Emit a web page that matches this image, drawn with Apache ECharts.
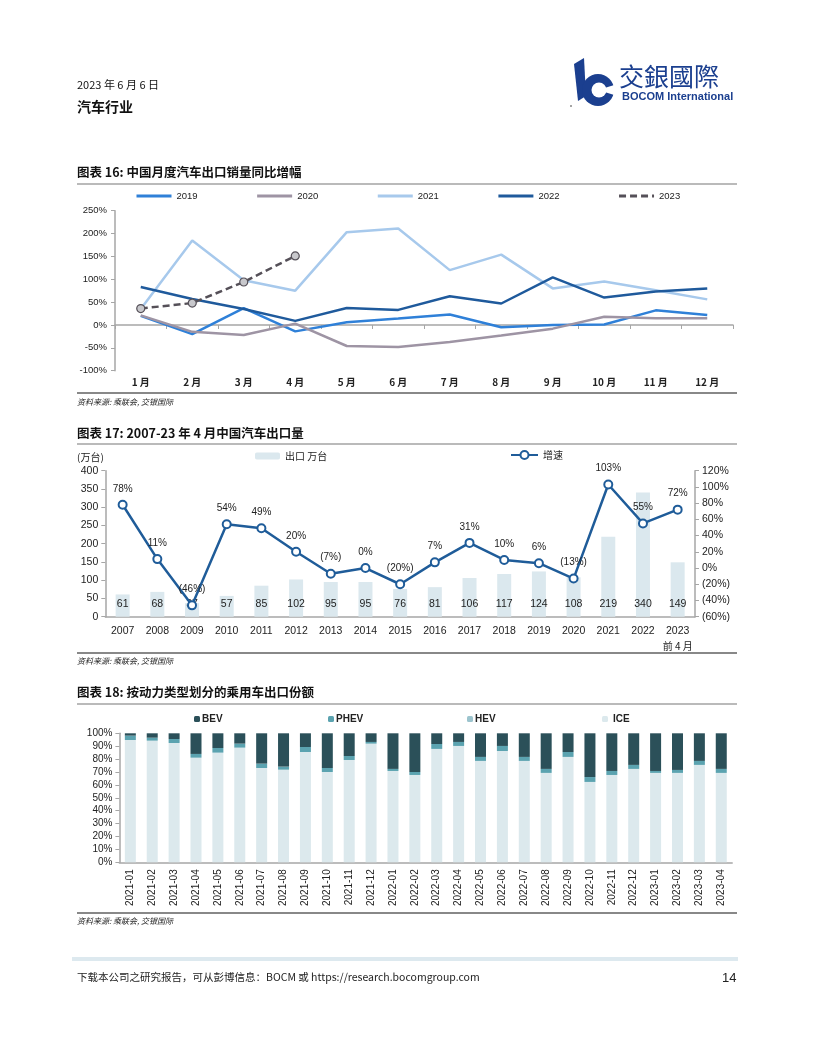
<!DOCTYPE html>
<html><head><meta charset="utf-8">
<script src="https://cdn.jsdelivr.net/npm/echarts@6/dist/echarts.min.js"></script>
<style>html,body{margin:0;padding:0;background:#fff}#c{width:816px;height:1056px}</style>
</head><body><div id="c"></div>
<script>
// ---------- Chart 16 data ----------
const months = ['1 月','2 月','3 月','4 月','5 月','6 月','7 月','8 月','9 月','10 月','11 月','12 月'];
const y2019 = [20, -20, 37, -14, 6, 14, 23, -5, 0, 1, 32, 22];
const y2020 = [21, -15, -22, 3, -46, -48, -37, -23, -8, 18, 15, 15];
const y2021 = [35, 185, 98, 75, 203, 211, 120, 154, 80, 95, 76, 56];
const y2022 = [83, 57, 35, 9, 37, 33, 63, 47, 104, 60, 73, 80];
const y2023 = [36, 48, 94, 151];
const pctTicks16 = {min: -100, max: 250, interval: 50};

// ---------- Chart 17 data ----------
const years = ['2007','2008','2009','2010','2011','2012','2013','2014','2015','2016','2017','2018','2019','2020','2021','2022','2023\n前 4 月'];
const exportVol = [61, 68, 37, 57, 85, 102, 95, 95, 76, 81, 106, 117, 124, 108, 219, 340, 149];
const growth = [78, 11, -46, 54, 49, 20, -7, 0, -20, 7, 31, 10, 6, -13, 103, 55, 72];
const volTicks = {min: 0, max: 400, interval: 50};
const growthTicks = {min: -60, max: 120, interval: 20};

// ---------- Chart 18 data ----------
const ym = ['2021-01','2021-02','2021-03','2021-04','2021-05','2021-06','2021-07','2021-08','2021-09','2021-10','2021-11','2021-12',
            '2022-01','2022-02','2022-03','2022-04','2022-05','2022-06','2022-07','2022-08','2022-09','2022-10','2022-11','2022-12',
            '2023-01','2023-02','2023-03','2023-04'];
const ice  = [94.8,94.3,92.5,81.1,85.0,88.9,73.1,71.8,85.5,70.0,79.3,92.0,70.8,67.7,87.9,90.2,78.6,86.3,78.6,69.3,81.7,62.3,67.7,72.4,69.3,69.3,75.5,69.3];
const hev  = [0,0,0,0,0,0,0,0,0,0,0,0,0,0,0,0,0,0,0,0,0,0,0,0,0,0,0,0];
const phev = [3.4,2.3,3.1,2.9,3.6,3.1,3.4,2.4,3.9,3.1,3.1,1.3,1.6,2.3,3.8,3.1,3.1,3.9,3.1,3.1,3.8,3.8,3.1,3.1,1.5,2.3,3.1,3.1];
const bev  = [1.8,3.4,4.4,16.0,11.4,8.0,23.5,25.8,10.6,26.9,17.6,6.7,27.6,30.0,8.3,6.7,18.3,9.8,18.3,27.6,14.5,33.9,29.2,24.5,29.2,28.4,21.4,27.6];
const shareTicks = {min: 0, max: 100, interval: 10};

const CJK = '"Noto Sans CJK SC"';
const LAT = '"Liberation Sans", Arial';
const navy = '#1b3f8f';
const pctFmt = v => v < 0 ? '(' + (-v) + '%)' : v + '%';

function txt(text, x, y, font, fill, extra) {
  return {type: 'text', style: Object.assign({text, x, y, font, fill: fill || '#111', verticalAlign: 'middle'}, extra || {})};
}
function hline(x1, x2, y, stroke, w) {
  return {type: 'line', shape: {x1, y1: y, x2, y2: y}, style: {stroke, lineWidth: w}};
}

const graphic = [
  txt('2023 年 6 月 6 日', 77, 85, '11px ' + CJK, '#111'),
  txt('汽车行业', 77, 107, 'bold 14px ' + CJK, '#111'),
  // logo
  {type: 'polygon', shape: {points: [[574, 64], [584, 58], [586, 96], [578, 101]]}, style: {fill: navy}},
  {type: 'circle', shape: {cx: 598, cy: 90, r: 16}, style: {fill: navy}},
  {type: 'circle', shape: {cx: 599, cy: 90, r: 7.5}, style: {fill: '#fff'}},
  {type: 'sector', shape: {cx: 598, cy: 90, r0: 6, r: 17, startAngle: -0.3, endAngle: 0.3}, style: {fill: '#fff'}},
  {type: 'circle', shape: {cx: 571, cy: 106, r: 0.8}, style: {fill: '#333'}},
  txt('交銀國際', 619, 76, '25px "Noto Sans CJK TC"', navy),
  txt('BOCOM International', 622, 97, 'bold 11px ' + LAT, navy),

  // chart 16 frame
  txt('图表 16: 中国月度汽车出口销量同比增幅', 77, 172, 'bold 12.5px ' + CJK, '#111'),
  hline(77, 737, 184, '#777', 1.2),
  hline(77, 737, 393, '#888', 2),
  txt('资料来源: 乘联会, 交银国际', 77, 402, 'italic 8px ' + CJK, '#222'),

  // chart 17 frame
  txt('图表 17: 2007-23 年 4 月中国汽车出口量', 77, 433, 'bold 12.5px ' + CJK, '#111'),
  hline(77, 737, 444, '#777', 1.2),
  txt('(万台)', 77, 457, '10px ' + CJK, '#222'),
  hline(77, 737, 653, '#888', 2),
  txt('资料来源: 乘联会, 交银国际', 77, 661, 'italic 8px ' + CJK, '#222'),

  // chart 18 frame
  txt('图表 18: 按动力类型划分的乘用车出口份额', 77, 692, 'bold 12.5px ' + CJK, '#111'),
  hline(77, 737, 704, '#777', 1.2),
  hline(77, 737, 913, '#888', 2),
  txt('资料来源: 乘联会, 交银国际', 77, 921, 'italic 8px ' + CJK, '#222'),

  // footer
  {type: 'rect', shape: {x: 72, y: 957, width: 666, height: 4}, style: {fill: '#dde9ef'}},
  txt('下载本公司之研究报告，可从彭博信息：BOCM 或 https://research.bocomgroup.com', 77, 977, '10.5px ' + CJK, '#222'),
  txt('14', 722, 978, '13px ' + LAT, '#222')
];

const axisGrey = '#a6a6a6';
const lab = {color: '#222', fontSize: 9.5, fontFamily: LAT};
const noSym = {itemStyle: {opacity: 0}};
const sqText = {fontSize: 10, fontWeight: 'bold', fontFamily: LAT, color: '#222', padding: [0, 0, 0, -3]};

const option = {
  animation: false,
  graphic: graphic,
  grid: [
    {left: 115, top: 210.7, width: 618, height: 160},
    {left: 105.3, top: 470.7, width: 589.7, height: 146},
    {left: 119.4, top: 733.3, width: 612.8, height: 129}
  ],
  legend: [
    {data: ['2019', '2020', '2021', '2022', '2023'].map(n => Object.assign({name: n}, noSym)),
     left: 135, top: 191, padding: 0, itemWidth: 35, itemHeight: 10, itemGap: 58,
     lineStyle: {width: 3},
     textStyle: {fontSize: 9.5, fontFamily: LAT, color: '#222'}},
    {data: ['出口 万台'], left: 255, top: 451, padding: 0, itemWidth: 25, itemHeight: 7,
     textStyle: {fontSize: 10, fontFamily: CJK, color: '#222'}},
    {data: ['增速'], left: 510, top: 450, padding: 0, itemWidth: 27, itemHeight: 10,
     textStyle: {fontSize: 10, fontFamily: CJK, color: '#222'}},
    {data: ['BEV'], left: 194, top: 714, padding: 0, itemWidth: 6, itemHeight: 6, textStyle: sqText},
    {data: ['PHEV'], left: 328, top: 714, padding: 0, itemWidth: 6, itemHeight: 6, textStyle: sqText},
    {data: ['HEV'], left: 467, top: 714, padding: 0, itemWidth: 6, itemHeight: 6, textStyle: sqText},
    {data: ['ICE'], left: 602, top: 714, padding: 0, itemWidth: 6, itemHeight: 6, textStyle: Object.assign({}, sqText, {padding: [0, 0, 0, 0]})}
  ],
  xAxis: [
    {gridIndex: 0, type: 'category', data: months, position: 'bottom',
     axisLine: {show: false, onZero: false}, axisTick: {show: false},
     axisLabel: {color: '#222', fontSize: 10, fontFamily: CJK, fontWeight: 'bold', margin: 7, interval: 0}},
    {gridIndex: 0, type: 'category', data: months, position: 'bottom',
     axisLine: {show: true, onZero: true, lineStyle: {color: axisGrey, width: 1.5}},
     axisTick: {show: true, length: 4, lineStyle: {color: axisGrey}}, axisLabel: {show: false}},
    {gridIndex: 1, type: 'category', data: years,
     axisLine: {lineStyle: {color: axisGrey, width: 1.5}}, axisTick: {length: 4, lineStyle: {color: axisGrey}},
     axisLabel: {color: '#222', fontSize: 10.5, fontFamily: LAT, margin: 7, lineHeight: 15, interval: 0,
       formatter: v => v.indexOf('\n') >= 0 ? v.split('\n')[0] + '\n{s|' + v.split('\n')[1] + '}' : v,
       rich: {s: {fontSize: 10, fontFamily: CJK, color: '#222', lineHeight: 15}}}},
    {gridIndex: 2, type: 'category', data: ym,
     axisLine: {lineStyle: {color: axisGrey, width: 1.5}}, axisTick: {length: 4, lineStyle: {color: axisGrey}},
     axisLabel: {color: '#222', fontSize: 10, fontFamily: LAT, rotate: 90, margin: 7, interval: 0}}
  ],
  yAxis: [
    {gridIndex: 0, type: 'value', min: pctTicks16.min, max: pctTicks16.max, interval: pctTicks16.interval,
     splitLine: {show: false}, axisLine: {show: true, lineStyle: {color: axisGrey, width: 1.5}},
     axisTick: {show: true, length: 4, lineStyle: {color: axisGrey}},
     axisLabel: Object.assign({formatter: '{value}%', margin: 8}, lab)},
    {gridIndex: 1, type: 'value', min: volTicks.min, max: volTicks.max, interval: volTicks.interval,
     splitLine: {show: false}, axisLine: {show: true, lineStyle: {color: axisGrey, width: 1.5}},
     axisTick: {show: true, length: 4, lineStyle: {color: axisGrey}},
     axisLabel: {color: '#222', fontSize: 10.5, fontFamily: LAT, margin: 7}},
    {gridIndex: 1, type: 'value', position: 'right', min: growthTicks.min, max: growthTicks.max, interval: growthTicks.interval,
     splitLine: {show: false}, axisLine: {show: true, lineStyle: {color: axisGrey, width: 1.5}},
     axisTick: {show: true, length: 4, lineStyle: {color: axisGrey}},
     axisLabel: {color: '#222', fontSize: 10.5, fontFamily: LAT, margin: 7, formatter: pctFmt}},
    {gridIndex: 2, type: 'value', min: shareTicks.min, max: shareTicks.max, interval: shareTicks.interval,
     splitLine: {show: false}, axisLine: {show: true, lineStyle: {color: axisGrey, width: 1.5}},
     axisTick: {show: true, length: 4, lineStyle: {color: axisGrey}},
     axisLabel: {color: '#222', fontSize: 10, fontFamily: LAT, margin: 7, formatter: '{value}%'}}
  ],
  series: [
    {name: '2019', type: 'line', xAxisIndex: 0, yAxisIndex: 0, data: y2019, symbol: 'none', lineStyle: {color: '#2f80d8', width: 2.5}, itemStyle: {color: '#2f80d8'}},
    {name: '2020', type: 'line', xAxisIndex: 0, yAxisIndex: 0, data: y2020, symbol: 'none', lineStyle: {color: '#9e94a4', width: 2.5}, itemStyle: {color: '#9e94a4'}},
    {name: '2021', type: 'line', xAxisIndex: 0, yAxisIndex: 0, data: y2021, symbol: 'none', lineStyle: {color: '#a7c9ec', width: 2.5}, itemStyle: {color: '#a7c9ec'}},
    {name: '2022', type: 'line', xAxisIndex: 0, yAxisIndex: 0, data: y2022, symbol: 'none', lineStyle: {color: '#1f5a9c', width: 2.5}, itemStyle: {color: '#1f5a9c'}},
    {name: '2023', type: 'line', xAxisIndex: 0, yAxisIndex: 0, data: y2023, symbol: 'circle', symbolSize: 8,
     lineStyle: {color: '#555058', width: 2.5, type: [7, 4]}, itemStyle: {color: '#c8c8cc', borderColor: '#555058', borderWidth: 1.2}},

    {name: '出口 万台', type: 'bar', xAxisIndex: 2, yAxisIndex: 1, data: exportVol, barWidth: 14,
     itemStyle: {color: '#dbe8ee'},
     label: {show: true, position: 'insideBottom', distance: 7, color: '#222', fontSize: 10.5, fontFamily: LAT}},
    {name: '增速', type: 'line', xAxisIndex: 2, yAxisIndex: 2, data: growth, symbol: 'emptyCircle', symbolSize: 8, z: 5,
     lineStyle: {color: '#1f5c99', width: 2.5}, itemStyle: {color: '#1f5c99', borderWidth: 1.5},
     label: {show: true, position: 'top', distance: 6, color: '#222', fontSize: 10, fontFamily: LAT, formatter: p => pctFmt(p.value)}},

    {name: 'ICE', type: 'bar', stack: 's', xAxisIndex: 3, yAxisIndex: 3, data: ice, barWidth: 11, itemStyle: {color: '#dce9ed'}},
    {name: 'HEV', type: 'bar', stack: 's', xAxisIndex: 3, yAxisIndex: 3, data: hev, barWidth: 11, itemStyle: {color: '#9cc4ce'}},
    {name: 'PHEV', type: 'bar', stack: 's', xAxisIndex: 3, yAxisIndex: 3, data: phev, barWidth: 11, itemStyle: {color: '#5ba3b0'}},
    {name: 'BEV', type: 'bar', stack: 's', xAxisIndex: 3, yAxisIndex: 3, data: bev, barWidth: 11, itemStyle: {color: '#2b5059'}}
  ]
};

const chart = echarts.init(document.getElementById('c'), null, {renderer: 'canvas'});
chart.setOption(option);
</script>
</body></html>
